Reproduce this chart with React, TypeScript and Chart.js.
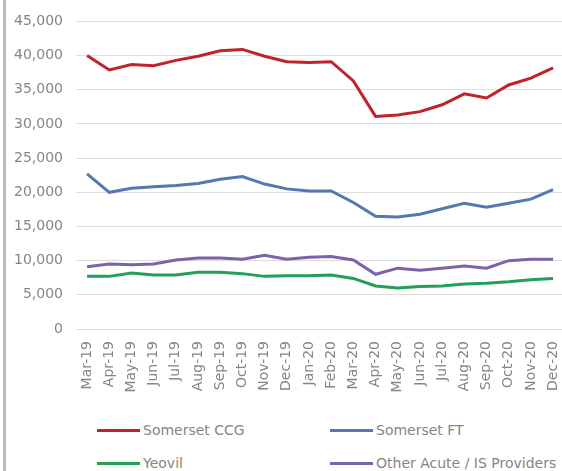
import React, { useEffect, useRef } from "react";
import { Chart, registerables } from "chart.js";

Chart.register(...registerables);

const categories = [
  "Mar-19", "Apr-19", "May-19", "Jun-19", "Jul-19", "Aug-19", "Sep-19", "Oct-19",
  "Nov-19", "Dec-19", "Jan-20", "Feb-20", "Mar-20", "Apr-20", "May-20", "Jun-20",
  "Jul-20", "Aug-20", "Sep-20", "Oct-20", "Nov-20", "Dec-20",
];

const somersetCCG = [40000, 37900, 38700, 38500, 39300, 39900, 40700, 40900, 39900, 39100, 39000, 39100, 36300, 31100, 31300, 31800, 32800, 34400, 33800, 35700, 36700, 38200];
const somersetFT = [22700, 20000, 20600, 20800, 21000, 21300, 21900, 22300, 21200, 20500, 20200, 20200, 18500, 16500, 16400, 16800, 17600, 18400, 17800, 18400, 19000, 20400];
const yeovil = [7700, 7700, 8200, 7900, 7900, 8300, 8300, 8100, 7700, 7800, 7800, 7900, 7400, 6300, 6000, 6200, 6300, 6600, 6700, 6900, 7200, 7400];
const otherProviders = [9100, 9500, 9400, 9500, 10100, 10400, 10400, 10200, 10800, 10200, 10500, 10600, 10100, 8000, 8900, 8600, 8900, 9200, 8900, 10000, 10200, 10200];

const seriesNames = ["Somerset CCG", "Somerset FT", "Yeovil", "Other Acute / IS Providers"];
const seriesColors = ["#c0232c", "#5578b0", "#22a05a", "#7c63a8"];

const FONT = "'DejaVu Sans', sans-serif";
const TEXT = "#858585";

export default function App() {
  const ref = useRef<HTMLCanvasElement | null>(null);

  useEffect(() => {
    if (!ref.current) return;
    const values = [somersetCCG, somersetFT, yeovil, otherProviders];
    const chart = new Chart(ref.current, {
      type: "line",
      data: {
        labels: categories,
        datasets: values.map((v, i) => ({
          label: seriesNames[i],
          data: v,
          borderColor: seriesColors[i],
          backgroundColor: seriesColors[i],
          borderWidth: 3,
          pointRadius: 0,
          tension: 0,
          fill: false,
        })),
      },
      options: {
        responsive: false,
        animation: false,
        layout: { padding: { top: 21, right: 6, bottom: 0, left: 0 } },
        plugins: { legend: { display: false }, title: { display: false }, tooltip: { enabled: false } },
        scales: {
          x: {
            offset: true,
            grid: { display: false, drawTicks: false },
            border: { display: false },
            ticks: {
              minRotation: 90,
              maxRotation: 90,
              autoSkip: false,
              padding: 12,
              color: TEXT,
              font: { family: FONT, size: 14 },
            },
            afterFit: (s: any) => { s.height = 81; },
          },
          y: {
            min: 0,
            max: 45000,
            grid: { color: "#dcdcdc", lineWidth: 1, drawTicks: false },
            border: { display: false },
            ticks: {
              stepSize: 5000,
              padding: 13,
              color: TEXT,
              font: { family: FONT, size: 14 },
              callback: (v: any) => Number(v).toLocaleString("en-US"),
            },
            afterFit: (s: any) => { s.width = 76; },
          },
        },
      },
    });
    return () => chart.destroy();
  }, []);

  const legendItems = [
    { i: 0, x: 97, y: 430 },
    { i: 1, x: 330, y: 430 },
    { i: 2, x: 97, y: 463 },
    { i: 3, x: 330, y: 463 },
  ];

  return (
    <div style={{ position: "fixed", left: 0, top: 0, width: 562, height: 471, overflow: "hidden", background: "#fff" }}>
      <div style={{ position: "absolute", left: 3, top: 0, width: 3, height: 471, background: "#b9b9c0" }} />
      <canvas ref={ref} width={582} height={410} style={{ position: "absolute", left: 0, top: 0, width: 582, height: 410 }} />
      {legendItems.map((it) => (
        <div key={it.i} style={{ position: "absolute", left: it.x, top: it.y - 10, height: 20, display: "flex", alignItems: "center", whiteSpace: "nowrap" }}>
          <div style={{ width: 43, height: 3, background: seriesColors[it.i] }} />
          <span style={{ marginLeft: 3, fontFamily: FONT, fontSize: 14, color: TEXT }}>{seriesNames[it.i]}</span>
        </div>
      ))}
    </div>
  );
}
